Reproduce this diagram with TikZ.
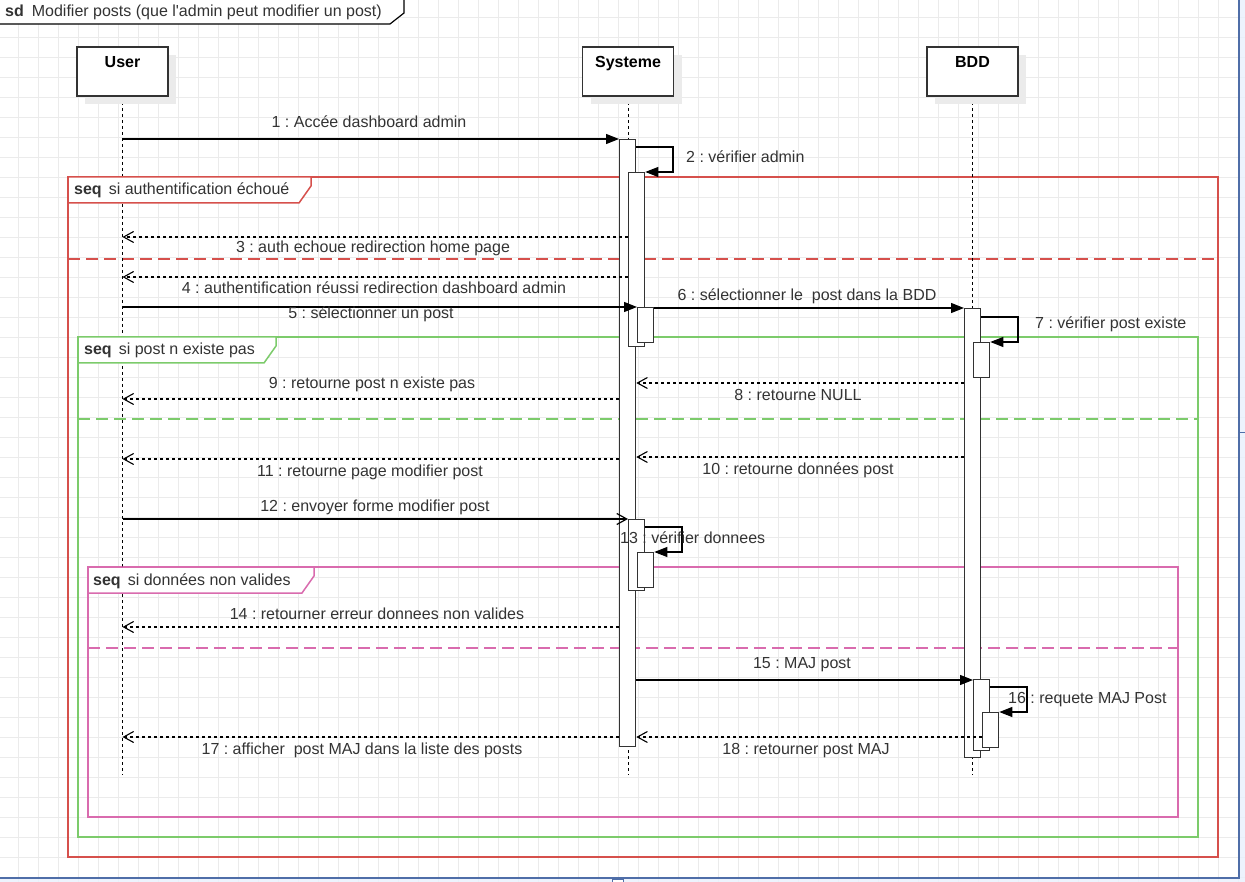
\documentclass[tikz,border=0pt]{standalone}
\usepackage{fontspec}
\setmainfont{Liberation Sans}
\newfontfamily\plainfont{Liberation Sans}
\usetikzlibrary{arrows.meta}
\definecolor{gridc}{HTML}{EBEBEB}
\definecolor{redf}{HTML}{D6504C}
\definecolor{greenf}{HTML}{7CCB6B}
\definecolor{pinkf}{HTML}{D96BAE}
\definecolor{selblue}{HTML}{4F6EA8}
\definecolor{selfill}{HTML}{E8F0FC}
\definecolor{ink}{HTML}{333333}
\tikzset{
  msg/.style={draw=black, line width=1.2pt, -{Triangle[length=13pt,width=10pt]}},
  openmsg/.style={draw=black, line width=1.2pt, -{Straight Barb[length=10pt,width=11pt]}},
  ret/.style={draw=black, line width=1.1pt, dash pattern=on 3pt off 3pt, -{Straight Barb[length=10pt,width=11pt]}},
  lbl/.style={inner sep=0pt, text=ink, anchor=base},
  lbll/.style={inner sep=0pt, text=ink, anchor=base west},
  act/.style={draw=ink, fill=white, line width=1.3pt, inner sep=0pt, anchor=north west},
  headbox/.style={draw=ink, fill=white, line width=1.5pt},
  headlbl/.style={font=\fontsize{16}{19}\selectfont\bfseries, text=black, inner sep=0pt, anchor=base},
  shadowbox/.style={fill=black!8},
  lifeline/.style={draw=black, line width=1pt, dash pattern=on 3pt off 3pt},
  framebody/.style={line width=1.5pt},
  sep/.style={line width=1.3pt, dash pattern=on 12pt off 6pt},
}
\begin{document}
\frenchspacing
\begin{tikzpicture}[x=1pt,y=-1pt,font=\fontsize{16}{19}\selectfont]
\useasboundingbox (0,0) rectangle (1245,882);
% grid
\foreach \gx in {-2,18,...,1238} \draw[gridc, line width=0.8pt] (\gx,0) -- (\gx,882);
\foreach \gy in {-3,17,...,877} \draw[gridc, line width=0.8pt] (0,\gy) -- (1245,\gy);
% selection area
\fill[selfill, opacity=0.8] (1239,0) rectangle (1245,882);
\fill[selfill, opacity=0.8] (0,878) rectangle (1239,882);
\draw[selblue, line width=2pt] (1239,-2) -- (1239,878) -- (-2,878);
\draw[selblue, line width=1pt] (1240,432) -- (1245,432);
\draw[selblue, line width=1pt, fill=white] (612,882.5) -- (612,879) -- (623,879) -- (623,882.5);

% sd tab
\draw[black, line width=1.2pt, fill=white] (-3,-3) -- (404,-3) -- (404,13) -- (390,24) -- (-3,24) -- cycle;
\node[lbll] (sdt) at (5,17) {\textbf{sd}\hspace{8pt}Modifier posts (que {\plainfont l'admin} peut modifier un post)};

% frames bodies
\draw[redf, framebody] (68,177) rectangle (1218,857);
\draw[redf, sep] (68,259) -- (1218,259);
\draw[greenf, framebody] (78,337) rectangle (1198,837);
\draw[greenf, sep] (78,419) -- (1198,419);
\draw[pinkf, framebody] (88,567) rectangle (1178,817);
\draw[pinkf, sep] (88,648) -- (1178,648);

% lifelines
\coordinate (U) at (122.5,96);
\coordinate (S) at (628,96);
\coordinate (B) at (972.5,96);
\draw[lifeline] (U) -- (122.5,775);
\draw[lifeline] (S) -- (628,775);
\draw[lifeline] (B) -- (972.5,775);

% frame tabs
\draw[redf, line width=1.5pt, fill=white] (68,177) -- (311,177) -- (311,186) -- (299,203) -- (68,203) -- cycle;
\node[lbll] (tabr) at (74,195) {\textbf{seq}\hspace{7pt}si authentification échoué};
\draw[greenf, line width=1.5pt, fill=white] (78,337) -- (276,337) -- (276,346) -- (264,363) -- (78,363) -- cycle;
\node[lbll] (tabg) at (84,355) {\textbf{seq}\hspace{7pt}si post n existe pas};
\draw[pinkf, line width=1.5pt, fill=white] (88,567) -- (314,567) -- (314,576) -- (302,593) -- (88,593) -- cycle;
\node[lbll] (tabp) at (93,585) {\textbf{seq}\hspace{7pt}si données non valides};

% header boxes
\fill[shadowbox] (85,55) rectangle (176,104);
\draw[headbox] (77,47) rectangle (168,96);
\node[headlbl] (hu) at (122.5,68) {User};
\fill[shadowbox] (590.5,55) rectangle (681.5,104);
\draw[headbox] (582.5,47) rectangle (673.5,96);
\node[headlbl] (hs) at (628,68) {Systeme};
\fill[shadowbox] (935,55) rectangle (1026,104);
\draw[headbox] (927,47) rectangle (1018,96);
\node[headlbl] (hb) at (972.5,68) {BDD};

% activations
\node[act, minimum width=16pt, minimum height=607pt] (s1) at (619,139) {};
\node[act, minimum width=16pt, minimum height=174pt] (s2) at (628,172) {};
\node[act, minimum width=16pt, minimum height=35pt] (s3) at (637,307) {};
\node[act, minimum width=16pt, minimum height=71pt] (s4) at (628,519) {};
\node[act, minimum width=16pt, minimum height=35pt] (s5) at (637,552) {};
\node[act, minimum width=16pt, minimum height=449pt] (b1) at (964,308) {};
\node[act, minimum width=16pt, minimum height=35pt] (b2) at (973,342) {};
\node[act, minimum width=16pt, minimum height=71pt] (b3) at (973,679) {};
\node[act, minimum width=16pt, minimum height=35pt] (b4) at (982,712) {};

% messages
\draw[msg] (U |- 0,139) -- (s1.west |- 0,139);
\draw[msg] (s1.east |- 0,147) -- (673,147) -- (673,172) -- (s2.north east);
\draw[ret] (s2.west |- 0,237) -- (U |- 0,237);
\draw[ret] (s2.west |- 0,277) -- (U |- 0,277);
\draw[msg] (U |- 0,307) -- (s3.north west);
\draw[msg] (s3.east |- 0,308) -- (b1.west |- 0,308);
\draw[msg] (b1.east |- 0,317) -- (1018,317) -- (1018,342) -- (b2.north east);
\draw[ret] (b1.west |- 0,383) -- (s1.east |- 0,383);
\draw[ret] (s1.west |- 0,399) -- (U |- 0,399);
\draw[ret] (b1.west |- 0,457) -- (s1.east |- 0,457);
\draw[ret] (s1.west |- 0,459) -- (U |- 0,459);
\draw[openmsg] (U |- 0,519) -- (s4.north west);
\draw[msg] (s4.east |- 0,527) -- (682,527) -- (682,552) -- (s5.north east);
\draw[ret] (s1.west |- 0,627) -- (U |- 0,627);
\draw[msg] (s1.east |- 0,680) -- (b3.west |- 0,680);
\draw[msg] (b3.east |- 0,687) -- (1027,687) -- (1027,712) -- (b4.north east);
\draw[ret] (b4.west |- 0,737) -- (s1.east |- 0,737);
\draw[ret] (s1.west |- 0,737) -- (U |- 0,737);

% labels
\node[lbl] (l1) at (369,128) {1 : Accée dashboard admin};
\node[lbll] (l2) at (686,163) {2 : vérifier admin};
\node[lbl] (l3) at (373,253) {3 : auth echoue redirection home page};
\node[lbl] (l4) at (374,294) {4 : authentification réussi redirection dashboard admin};
\node[lbl] (l5) at (371,319) {5 : sélectionner un post};
\node[lbl] (l6) at (807,301) {6 : sélectionner le\ \ post dans la BDD};
\node[lbll] (l7) at (1035,329) {7 : vérifier post existe};
\node[lbl] (l8) at (798,401) {8 : retourne NULL};
\node[lbl] (l9) at (372,389) {9 : retourne post n existe pas};
\node[lbl] (l10) at (798,474) {10 : retourne données post};
\node[lbl] (l11) at (370,476) {11 : retourne page modifier post};
\node[lbl] (l12) at (375,511) {12 : envoyer forme modifier post};
\node[lbll] (l13) at (620,543) {13 : vérifier donnees};
\node[lbl] (l14) at (377,619) {14 : retourner erreur donnees non valides};
\node[lbl] (l15) at (802,668) {15 : MAJ post};
\node[lbll] (l16) at (1008,703) {16 : requete MAJ Post};
\node[lbl] (l17) at (362,754) {17 : afficher\ \ post MAJ dans la liste des posts};
\node[lbl] (l18) at (806,754) {18 : retourner post MAJ};
\end{tikzpicture}
\end{document}
